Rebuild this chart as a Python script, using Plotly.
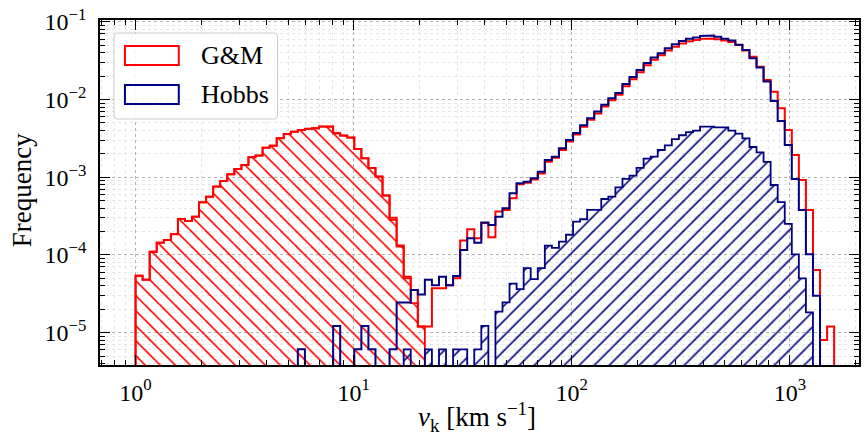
import numpy as np
import plotly.graph_objects as go

# ---------------- data (bin frequencies) ----------------
LOG_V_MIN = 0.0      # first bin edge: 10^0 km/s
LOG_V_MAX = 3.203    # last bin edge
N_BINS = 99

# G&M total distribution (step outline)
GM_TOTAL = [
    5.4e-5, 4.8e-5, 1.10e-4, 1.44e-4, 1.56e-4, 1.85e-4, 2.90e-4, 2.74e-4, 3.11e-4, 4.76e-4,
    5.62e-4, 7.57e-4, 8.95e-4, 1.09e-3, 1.28e-3, 1.44e-3, 1.81e-3, 1.90e-3, 2.40e-3, 2.55e-3,
    3.18e-3, 3.61e-3, 3.86e-3, 4.06e-3, 4.19e-3, 4.27e-3, 4.48e-3, 4.48e-3, 3.68e-3, 3.43e-3,
    3.24e-3, 2.31e-3, 1.75e-3, 1.31e-3, 1.02e-3, 5.82e-4, 3.02e-4, 1.32e-4, 5.25e-5, 3.55e-5,
    1.20e-5, 1.20e-5, 3.72e-5, 3.72e-5, 4.07e-5, 5.0e-5, 1.53e-4, 2.14e-4, 1.64e-4, 2.57e-4,
    1.69e-4, 3.61e-4, 3.80e-4, 5.37e-4, 8.13e-4, 8.51e-4, 9.33e-4, 1.12e-3, 1.58e-3, 1.78e-3,
    2.24e-3, 2.88e-3, 3.55e-3, 4.47e-3, 5.50e-3, 6.61e-3, 8.13e-3, 9.77e-3, 1.15e-2, 1.48e-2,
    1.82e-2, 2.24e-2, 2.75e-2, 3.24e-2, 3.72e-2, 4.27e-2, 4.79e-2, 5.25e-2, 5.62e-2, 5.82e-2,
    6.03e-2, 6.10e-2, 5.96e-2, 5.75e-2, 5.50e-2, 5.01e-2, 4.27e-2, 3.55e-2, 2.63e-2, 1.78e-2,
    1.26e-2, 7.71e-3, 4.06e-3, 1.93e-3, 9.23e-4, 3.80e-4, 6.41e-5, 8.05e-6, 1.20e-5,
]

# G&M low-velocity component (hatched)
GM_LOW = [
    5.4e-5, 4.8e-5, 1.10e-4, 1.44e-4, 1.56e-4, 1.85e-4, 2.90e-4, 2.74e-4, 3.11e-4, 4.76e-4,
    5.62e-4, 7.57e-4, 8.95e-4, 1.09e-3, 1.28e-3, 1.44e-3, 1.81e-3, 1.90e-3, 2.40e-3, 2.55e-3,
    3.18e-3, 3.61e-3, 3.86e-3, 4.06e-3, 4.19e-3, 4.27e-3, 4.48e-3, 4.48e-3, 3.68e-3, 3.43e-3,
    3.24e-3, 2.31e-3, 1.75e-3, 1.31e-3, 1.02e-3, 5.82e-4, 2.82e-4, 1.28e-4, 5.0e-5, 2.40e-5,
    1.20e-5, 0, 0, 0, 0, 0, 0, 0, 0, 0,
    0, 0, 0, 0, 0, 0, 0, 0, 0, 0,
    0, 0, 0, 0, 0, 0, 0, 0, 0, 0,
    0, 0, 0, 0, 0, 0, 0, 0, 0, 0,
    0, 0, 0, 0, 0, 0, 0, 0, 0, 0,
    0, 0, 0, 0, 0, 0, 0, 0, 0,
]

# Hobbs total distribution (step outline)
HOBBS_TOTAL = [
    0, 0, 0, 0, 0, 0, 0, 0, 0, 0,
    0, 0, 0, 0, 0, 0, 0, 0, 0, 0,
    0, 0, 0, 6.1e-6, 0, 0, 0, 0, 1.22e-5, 0,
    0, 6.1e-6, 1.22e-5, 6.1e-6, 0, 0, 6.1e-6, 2.45e-5, 2.45e-5, 3.55e-5,
    3.09e-5, 4.79e-5, 4.07e-5, 5.25e-5, 4.07e-5, 5.37e-5, 1.16e-4, 1.64e-4, 1.44e-4, 2.61e-4,
    2.43e-4, 3.11e-4, 3.99e-4, 6.22e-4, 8.38e-4, 8.77e-4, 9.70e-4, 1.18e-3, 1.67e-3, 1.84e-3,
    2.36e-3, 3.02e-3, 3.72e-3, 4.68e-3, 5.75e-3, 7.00e-3, 8.53e-3, 1.04e-2, 1.21e-2, 1.58e-2,
    1.95e-2, 2.40e-2, 2.95e-2, 3.47e-2, 3.94e-2, 4.57e-2, 5.15e-2, 5.68e-2, 6.03e-2, 6.27e-2,
    6.58e-2, 6.64e-2, 6.40e-2, 6.03e-2, 5.75e-2, 5.07e-2, 4.35e-2, 3.40e-2, 2.58e-2, 1.70e-2,
    9.59e-3, 5.30e-3, 2.60e-3, 9.51e-4, 3.80e-4, 1.02e-4, 2.99e-5, 0, 0,
]

# Hobbs high-velocity component (hatched)
HOBBS_HIGH = [
    0, 0, 0, 0, 0, 0, 0, 0, 0, 0,
    0, 0, 0, 0, 0, 0, 0, 0, 0, 0,
    0, 0, 0, 0, 0, 0, 0, 0, 0, 0,
    0, 0, 0, 0, 0, 0, 0, 0, 6.1e-6, 0,
    0, 6.1e-6, 0, 6.1e-6, 0, 6.1e-6, 6.1e-6, 0, 6.1e-6, 1.22e-5,
    0, 1.86e-5, 2.45e-5, 4.27e-5, 3.63e-5, 6.76e-5, 4.90e-5, 6.76e-5, 1.32e-4, 1.23e-4,
    1.48e-4, 1.82e-4, 2.69e-4, 2.88e-4, 3.80e-4, 3.80e-4, 5.25e-4, 5.62e-4, 7.41e-4, 9.55e-4,
    1.05e-3, 1.32e-3, 1.74e-3, 1.84e-3, 2.24e-3, 2.57e-3, 3.09e-3, 3.47e-3, 3.80e-3, 3.98e-3,
    4.47e-3, 4.47e-3, 4.37e-3, 4.37e-3, 3.98e-3, 3.63e-3, 3.16e-3, 2.45e-3, 2.09e-3, 1.58e-3,
    7.94e-4, 4.79e-4, 2.51e-4, 1.02e-4, 5.01e-5, 1.82e-5, 0, 0, 0,
]

SERIES_NAMES = ["G&M", "Hobbs"]

X_TICK_VALS = [1, 10, 100, 1000]
X_TICK_TEXT = ["10<sup>0</sup>", "10<sup>1</sup>", "10<sup>2</sup>", "10<sup>3</sup>"]
Y_TICK_VALS = [1e-5, 1e-4, 1e-3, 1e-2, 1e-1]
Y_TICK_TEXT = ["10<sup>\u22125</sup>", "10<sup>\u22124</sup>", "10<sup>\u22123</sup>",
               "10<sup>\u22122</sup>", "10<sup>\u22121</sup>"]

X_TITLE = "<i>v</i><sub>k</sub> [km s<sup>\u22121</sup>]"
Y_TITLE = "Frequency"

# ---------------- styling ----------------
RED = "#ff0000"
NAVY = "#000080"
FONT = "Liberation Serif"
X_RANGE = [-0.163, 3.317]
Y_RANGE = [-5.416, -0.977]
FLOOR = 1e-9

edges = np.logspace(LOG_V_MIN, LOG_V_MAX, N_BINS + 1)


def step_outline(vals):
    idx = [i for i, v in enumerate(vals) if v > 0]
    i0, i1 = idx[0], idx[-1]
    xs, ys = [edges[i0]], [FLOOR]
    for i in range(i0, i1 + 1):
        v = vals[i] if vals[i] > 0 else FLOOR
        xs += [edges[i], edges[i + 1]]
        ys += [v, v]
    xs.append(edges[i1 + 1])
    ys.append(FLOOR)
    return xs, ys


fig = go.Figure()


def add_outline(vals, color, width):
    xs, ys = step_outline(vals)
    fig.add_trace(go.Scatter(x=xs, y=ys, mode="lines", line=dict(color=color, width=width),
                             showlegend=False, hoverinfo="skip"))


def add_hatched(vals, color, shape, width):
    xs, ys = step_outline(vals)
    fig.add_trace(go.Scatter(
        x=xs, y=ys, mode="lines", fill="toself",
        fillcolor="rgba(0,0,0,0)",
        fillpattern=dict(shape=shape, fgcolor=color, bgcolor="rgba(0,0,0,0)",
                         size=10.6, solidity=0.15, fgopacity=1),
        line=dict(color=color, width=width),
        showlegend=False, hoverinfo="skip"))


add_outline(GM_TOTAL, RED, 2.0)
add_hatched(GM_LOW, RED, "\\", 1.8)
add_outline(HOBBS_TOTAL, NAVY, 2.0)
add_hatched(HOBBS_HIGH, NAVY, "/", 1.8)


def minor_vals(lo, hi):
    out = []
    for k in range(lo, hi + 1):
        for m in range(2, 10):
            out.append(m * 10.0 ** k)
    return out


axis_common = dict(
    type="log", tickmode="array", ticks="inside", ticklen=10, tickwidth=1.2,
    tickcolor="black", mirror="allticks", showline=True, linecolor="black", linewidth=1.5,
    showgrid=True, gridcolor="#b3b3b3", griddash="dot", gridwidth=1, zeroline=False,
    tickfont=dict(family=FONT, size=24, color="black"),
)

fig.update_xaxes(
    range=X_RANGE, tickvals=X_TICK_VALS, ticktext=X_TICK_TEXT, ticklabelstandoff=5,
    minor=dict(tickmode="array", tickvals=minor_vals(-1, 3), ticks="inside", ticklen=5,
               tickwidth=1, tickcolor="black", showgrid=True, gridcolor="#e6e6e6",
               griddash="dot", gridwidth=0.8),
    **axis_common)
fig.update_yaxes(
    range=Y_RANGE, tickvals=Y_TICK_VALS, ticktext=Y_TICK_TEXT, ticklabelstandoff=7,
    minor=dict(tickmode="array", tickvals=minor_vals(-6, -1), ticks="inside", ticklen=5,
               tickwidth=1, tickcolor="black", showgrid=True, gridcolor="#e6e6e6",
               griddash="dot", gridwidth=0.8),
    **axis_common)

# plot-area geometry in px (for legend placement)
ML, MR, MT, MB = 100, 3, 20, 72
W, H = 864, 437
PW, PH = W - ML - MR, H - MT - MB


def px_x(px):
    return (px - ML) / PW


def px_y(py):
    return (H - MB - py) / PH


# legend box (rounded rectangle)
bx0, bx1, by0, by1, r = 114, 278, 33, 119, 4
def P(x, y):
    return f"{px_x(x):.5f},{px_y(y):.5f}"
path = (f"M {P(bx0 + r, by0)} L {P(bx1 - r, by0)} Q {P(bx1, by0)} {P(bx1, by0 + r)} "
        f"L {P(bx1, by1 - r)} Q {P(bx1, by1)} {P(bx1 - r, by1)} "
        f"L {P(bx0 + r, by1)} Q {P(bx0, by1)} {P(bx0, by1 - r)} "
        f"L {P(bx0, by0 + r)} Q {P(bx0, by0)} {P(bx0 + r, by0)} Z")
shapes = [dict(type="path", path=path, xref="paper", yref="paper",
               fillcolor="rgba(255,255,255,0.85)", line=dict(color="#cccccc", width=1),
               layer="above")]
annotations = []
for name, color, (iy0, iy1) in zip(SERIES_NAMES, [RED, NAVY], [(46, 65), (85, 104)]):
    shapes.append(dict(type="rect", xref="paper", yref="paper",
                       x0=px_x(125), x1=px_x(179), y0=px_y(iy1), y1=px_y(iy0),
                       line=dict(color=color, width=2), fillcolor="rgba(0,0,0,0)",
                       layer="above"))
    annotations.append(dict(text=name, x=px_x(199), y=px_y((iy0 + iy1) / 2),
                            xref="paper", yref="paper", xanchor="left", yanchor="middle",
                            showarrow=False, font=dict(family=FONT, size=26, color="black")))

annotations.append(dict(text=X_TITLE, x=px_x(478), y=px_y(417), xref="paper", yref="paper",
                        xanchor="center", yanchor="middle", showarrow=False,
                        font=dict(family=FONT, size=27, color="black")))
annotations.append(dict(text=Y_TITLE, x=px_x(22), y=px_y(190), xref="paper", yref="paper",
                        xanchor="center", yanchor="middle", textangle=-90, showarrow=False,
                        font=dict(family=FONT, size=27, color="black")))

fig.update_layout(
    width=W, height=H, margin=dict(l=ML, r=MR, t=MT, b=MB, pad=0),
    paper_bgcolor="white", plot_bgcolor="white", showlegend=False,
    shapes=shapes, annotations=annotations,
)

fig.write_html("out.html")
